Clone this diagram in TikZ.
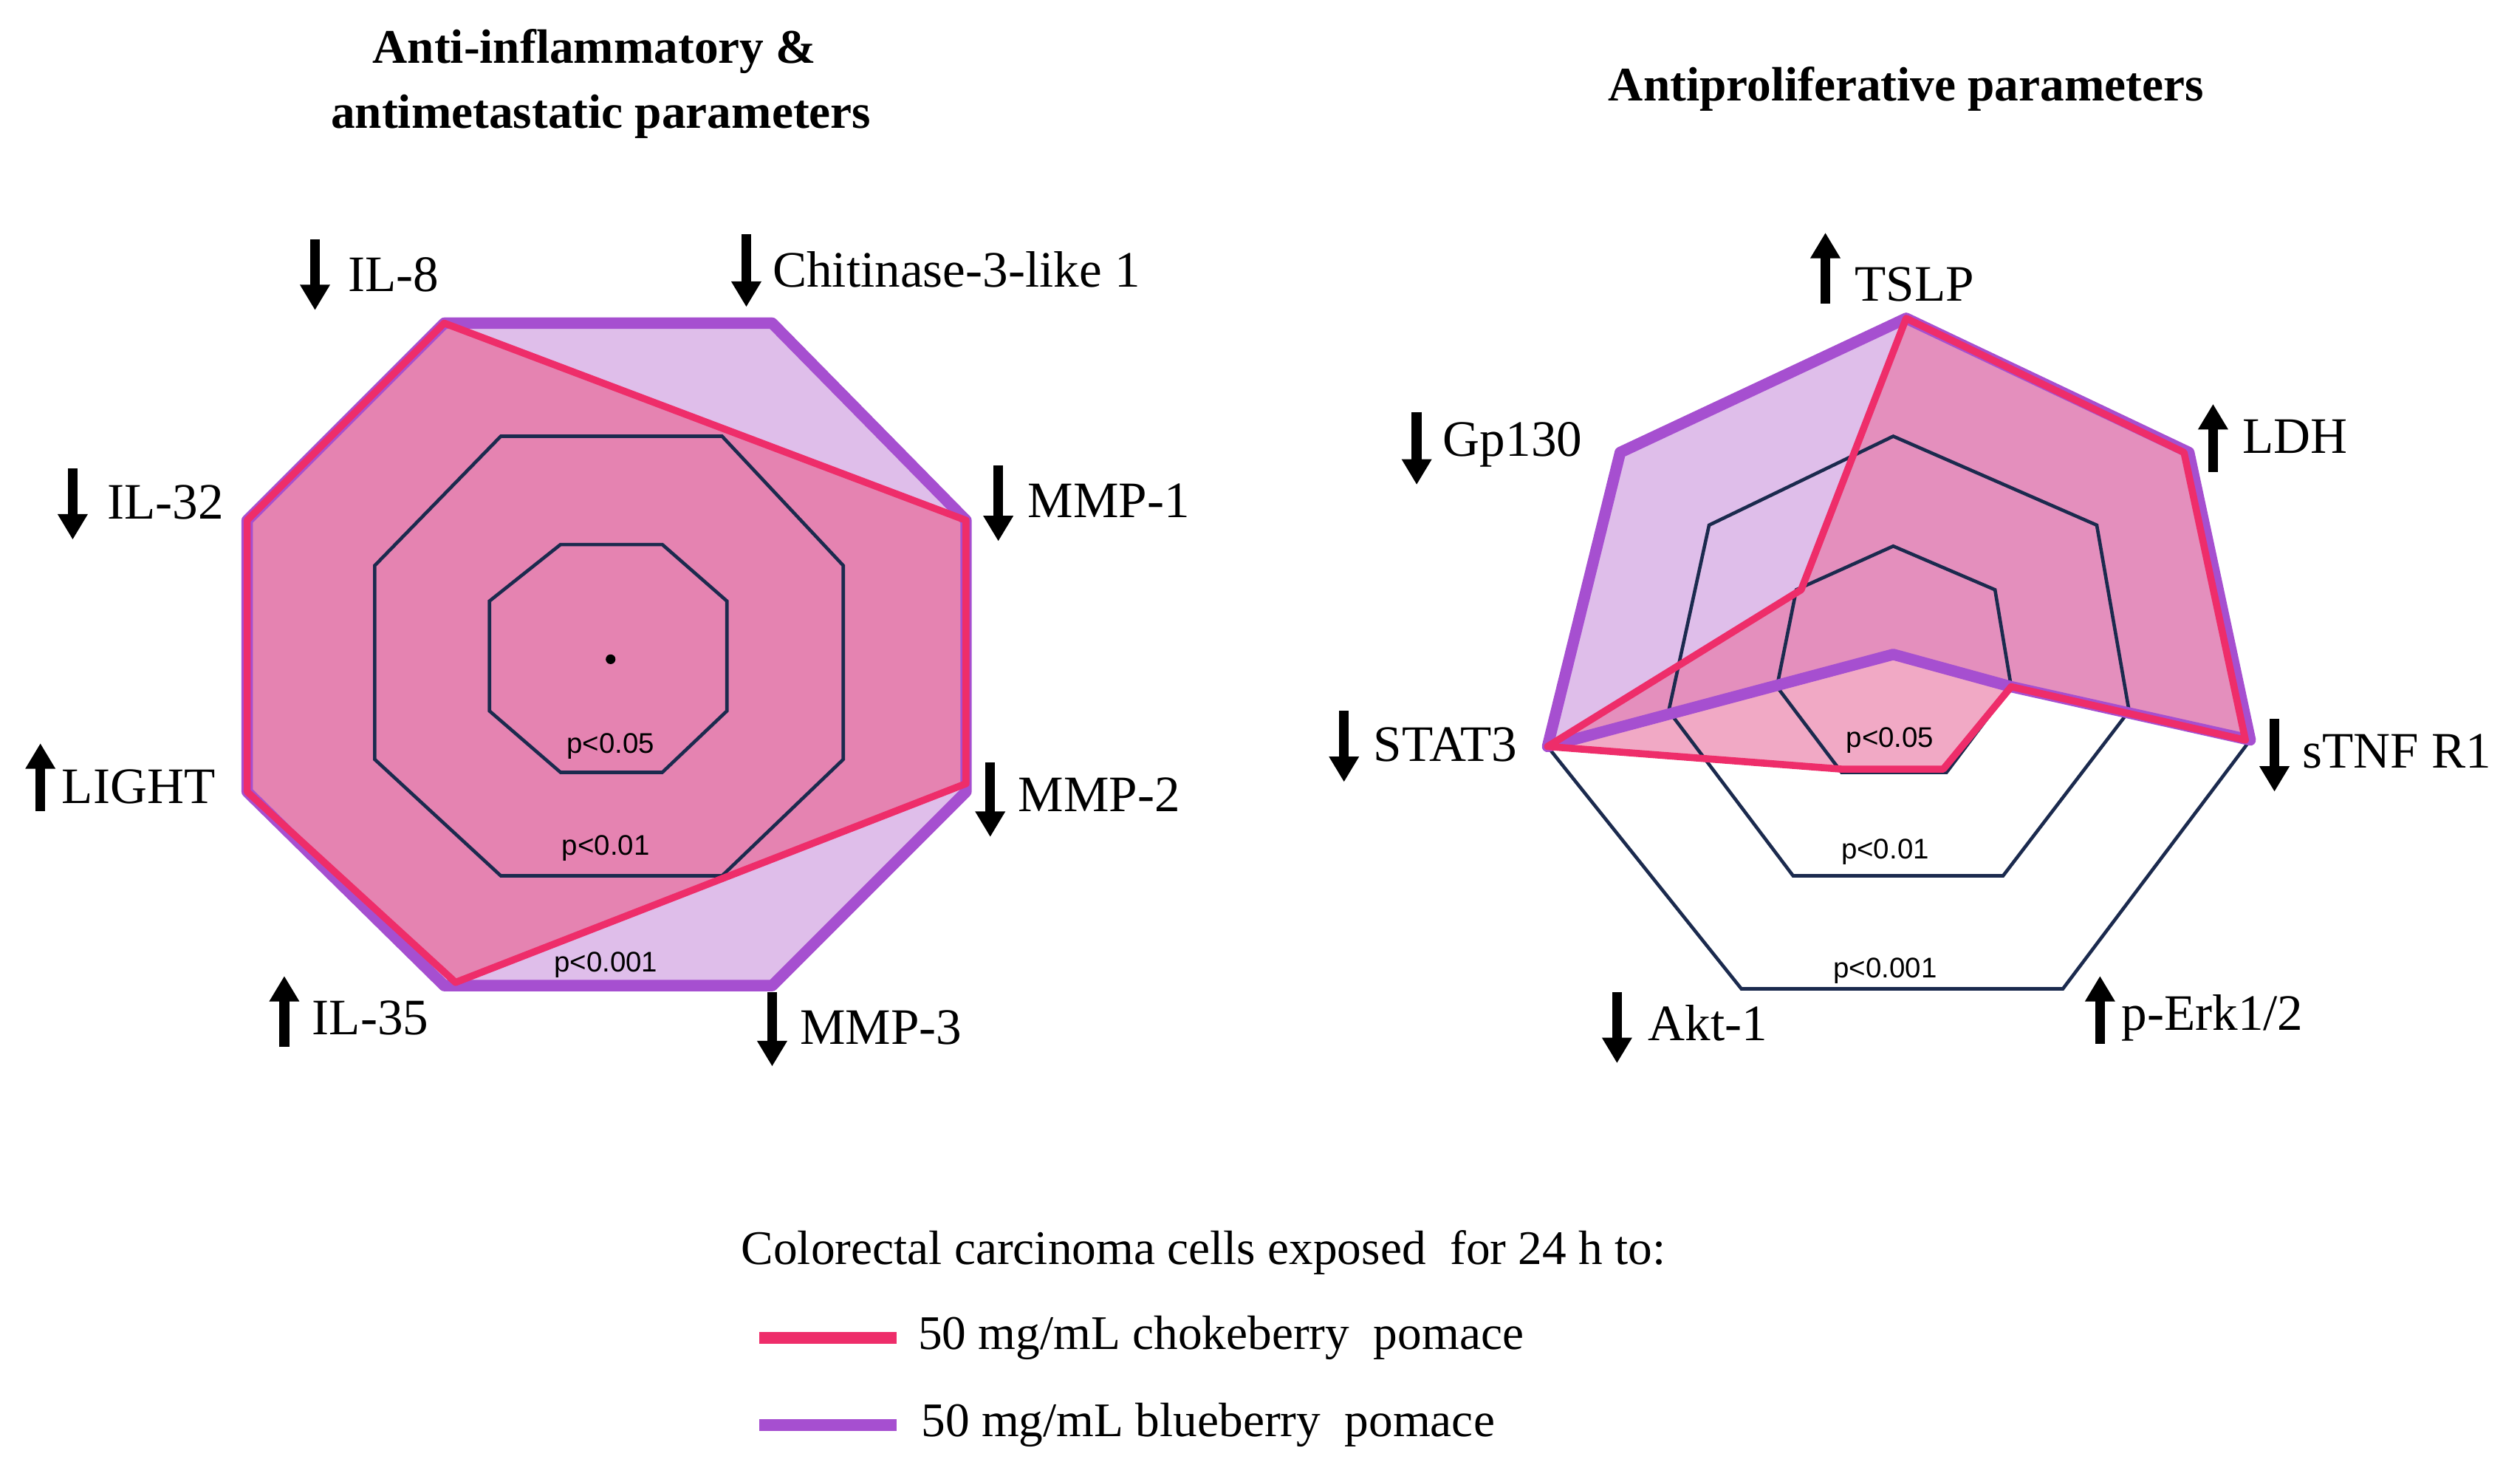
\documentclass[tikz,border=0pt]{standalone}
\usepackage{fontspec}
\setmainfont{Liberation Serif}
\newfontfamily\psans{Liberation Sans}
\usetikzlibrary{arrows.meta}
\definecolor{pur}{HTML}{A64FD0}
\definecolor{purf}{HTML}{DFBEEA}
\definecolor{redl}{HTML}{EE2D6A}
\definecolor{redf}{HTML}{E8709F}
\definecolor{navy}{HTML}{1B2A4E}
\begin{document}
\begin{tikzpicture}[x=0.02cm,y=-0.02cm,
  lab/.style={anchor=west,inner sep=0pt,font=\fontsize{18}{20}\selectfont},
  ttl/.style={font=\fontsize{17}{20}\selectfont\bfseries},
  pl/.style={font=\psans\fontsize{10}{12}\selectfont,inner sep=1pt},
  grid/.style={draw=navy,line width=1.2pt},
  arr/.style={line width=3.5pt,-{Triangle[length=9pt,width=10pt]}},
  pline/.style={draw=pur,line width=4pt,line join=round},
  rline/.style={draw=redl,line width=2.5pt,line join=round}]
\useasboundingbox (0,0) rectangle (1560,915);
% titles
\node[ttl] (t1) at (368,32) {Anti-inflammatory \&};
\node[ttl] (t2) at (372,72) {antimetastatic parameters};
\node[ttl] (t3) at (1180,55) {Antiproliferative parameters};
% ---- left chart
\fill[purf] (275,200)--(478,200)--(598,322)--(598,490)--(478,610)--(275,610)--(153,490)--(153,322)--cycle;
\fill[redf,opacity=0.75] (275,200)--(598,322)--(598,485)--(282,608)--(153,490)--(153,322)--cycle;
\draw[grid] (310,270)--(447,270)--(522,350)--(522,470)--(447,542)--(310,542)--(232,470)--(232,350)--cycle;
\draw[grid] (347,337)--(410,337)--(450,372)--(450,440)--(410,478)--(347,478)--(303,440)--(303,372)--cycle;
\fill (378,408) circle (3);
\draw[pline] (275,200)--(478,200)--(598,322)--(598,490)--(478,610)--(275,610)--(153,490)--(153,322)--cycle;
\draw[rline] (275,200)--(598,322)--(598,485)--(282,608)--(153,490)--(153,322)--cycle;
\node[pl] (l1) at (378,462) {p<0.05};
\node[pl] (l2) at (375,525) {p<0.01};
\node[pl] (l3) at (375,597) {p<0.001};
% ---- right chart
\draw[grid] (958,462)--(1078,612)--(1277,612)--(1393,458);
\fill[purf] (1180,197)--(1355,280)--(1393,458)--(1245,425)--(1172,405)--(958,462)--(1003,280)--cycle;
\fill[redf,opacity=0.6] (1180,197)--(1352,280)--(1390,458)--(1245,425)--(1203,476)--(1140,476)--(958,462)--(1115,365)--cycle;
\draw[grid] (1110,542)--(1240,542)--(1318,440)--(1298,325)--(1172,270)--(1058,325)--(1033,440)--cycle;
\draw[grid] (1140,478)--(1205,478)--(1245,425)--(1235,365)--(1172,338)--(1112,365)--(1100,425)--cycle;
\draw[pline] (1180,197)--(1355,280)--(1393,458)--(1245,425)--(1172,405)--(958,462)--(1003,280)--cycle;
\draw[rline] (1180,197)--(1352,280)--(1390,458)--(1245,425)--(1203,476)--(1140,476)--(958,462)--(1115,365)--cycle;
\node[pl] (r1) at (1170,458) {p<0.05};
\node[pl] (r2) at (1167,527) {p<0.01};
\node[pl] (r3) at (1167,601) {p<0.001};
% ---- labels left
\draw[arr] (195,148)--(195,192); \node[lab] (a1) at (215,170) {IL-8};
\draw[arr] (462,145)--(462,190); \node[lab] (a2) at (478,167) {Chitinase-3-like 1};
\draw[arr] (618,288)--(618,335); \node[lab] (a3) at (636,310) {MMP-1};
\draw[arr] (613,472)--(613,518); \node[lab] (a4) at (630,492) {MMP-2};
\draw[arr] (478,614)--(478,660); \node[lab] (a5) at (495,636) {MMP-3};
\draw[arr] (176,648)--(176,604); \node[lab] (a6) at (193,630) {IL-35};
\draw[arr] (25,502)--(25,460); \node[lab] (a7) at (38,487) {LIGHT};
\draw[arr] (45,290)--(45,334); \node[lab] (a8) at (66,311) {IL-32};
% ---- labels right
\draw[arr] (1130,188)--(1130,144); \node[lab] (b1) at (1148,176) {TSLP};
\draw[arr] (1370,292)--(1370,250); \node[lab] (b2) at (1388,270) {LDH};
\draw[arr] (877,255)--(877,300); \node[lab] (b3) at (893,275) {Gp130};
\draw[arr] (832,440)--(832,484); \node[lab] (b4) at (850,461) {STAT3};
\draw[arr] (1408,445)--(1408,490); \node[lab] (b5) at (1425,465) {sTNF R1};
\draw[arr] (1001,614)--(1001,658); \node[lab] (b6) at (1020,633) {Akt-1};
\draw[arr] (1300,646)--(1300,604); \node[lab] (b7) at (1313,630) {p-Erk1/2};
% ---- legend
\node[font=\fontsize{17}{20}\selectfont] (lg) at (745,775) {Colorectal carcinoma cells exposed\ \ for 24 h to:};
\coordinate (c1) at (470,828); \coordinate (c2) at (555,828);
\coordinate (c3) at (470,882); \coordinate (c4) at (555,882);
\draw[redl,line width=4pt] (c1)--(c2);
\draw[pur,line width=4pt] (c3)--(c4);
\node[lab,font=\fontsize{17}{20}\selectfont] (g1) at (568,828) {50 mg/mL chokeberry\ \ pomace};
\node[lab,font=\fontsize{17}{20}\selectfont] (g2) at (570,882) {50 mg/mL blueberry\ \ pomace};
\end{tikzpicture}
\end{document}
